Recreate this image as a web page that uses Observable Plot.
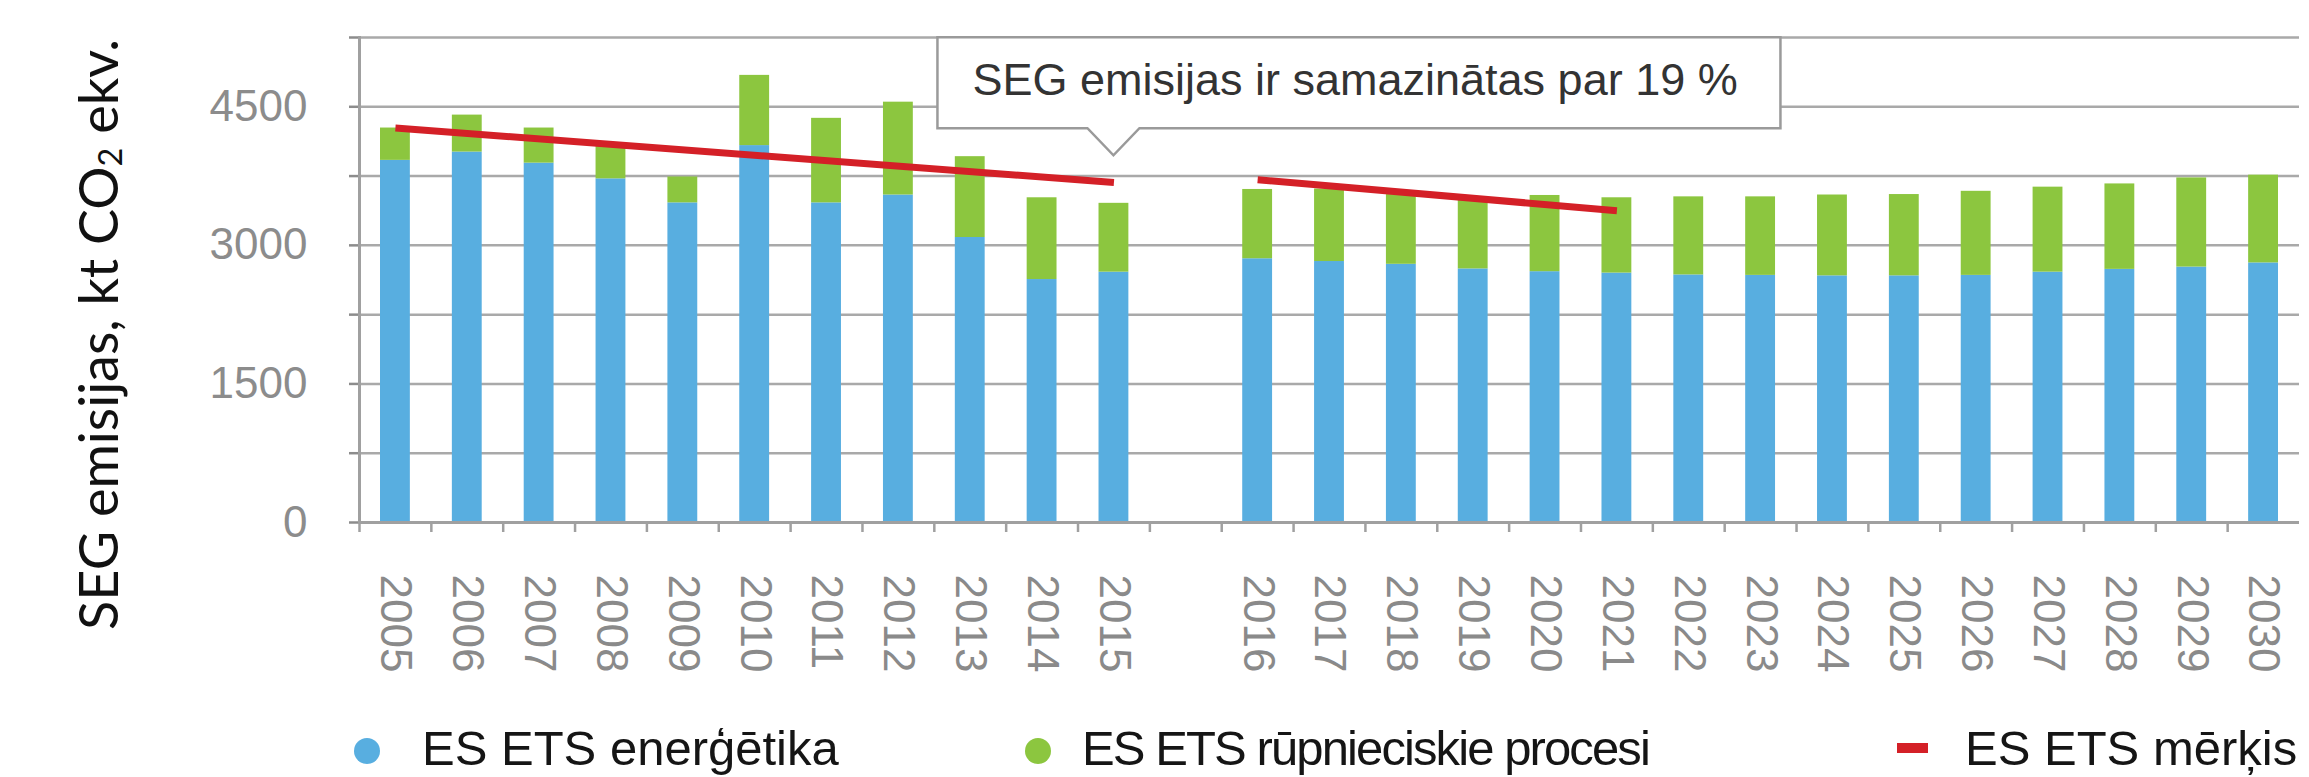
<!DOCTYPE html>
<html><head><meta charset="utf-8">
<script src="https://cdn.jsdelivr.net/npm/d3@7"></script>
<script src="https://cdn.jsdelivr.net/npm/@observablehq/plot@0.6"></script>
<style>
body{margin:0;background:#fff;}
#wrap{position:relative;width:2309px;height:777px;overflow:hidden;font-family:"Liberation Sans",Arial,sans-serif;background:#fff;}
#chart{position:absolute;left:0;top:0;}
#ytitle{position:absolute;left:68px;top:35px;height:600px;width:60px;writing-mode:vertical-rl;transform:rotate(180deg);text-align:center;font-family:Lato,"Open Sans",sans-serif;font-size:54px;line-height:60px;color:#111;white-space:nowrap;}
#ytitle sub{font-size:60%;}
.lg{position:absolute;top:724px;font-size:49px;line-height:49px;color:#151515;white-space:nowrap;}
.mk{position:absolute;}
</style></head><body>
<div id="wrap"><div id="chart"></div><div id="ytitle">SEG emisijas, kt CO<sub>2</sub> ekv.</div><div id="legend"></div></div>
<script>
// ---- data ----
const categories = ["2005","2006","2007","2008","2009","2010","2011","2012","2013","2014","2015","",
  "2016","2017","2018","2019","2020","2021","2022","2023","2024","2025","2026","2027","2028","2029","2030"];
const energy   = [3920,4010,3890,3720,3460,4080,3460,3545,3085,2630,2710,null,
  2855,2825,2795,2745,2715,2700,2680,2675,2670,2670,2675,2710,2740,2765,2810];
const industry = [350,400,380,360,280,760,915,1005,875,885,745,null,
  750,785,755,755,825,815,845,850,875,880,910,920,925,965,950];
const targetYears   = ["2005","2015","2016","2021"];
const targetValues  = [4270,3680,3710,3375];
const targetSegment = ["a","a","b","b"];
const seriesNames  = ["ES ETS enerģētika","ES ETS rūpnieciskie procesi","ES ETS mērķis"];
const seriesColors = ["#58aee0","#8cc63f","#d42027"];
const gridTicks  = [0,750,1500,2250,3000,3750,4500,5250];
const annotationText  = "SEG emisijas ir samazinātas par 19 %";
const annotationYear  = "2015";
const annotationValue = 3970;

// ---- layout ----
const W = 2309, H = 700, mL = 359, mR = 10, mT = 37, mB = 178;
const step = (W - mL - mR) / categories.length;

const bars = [];
categories.forEach((c, i) => {
  if (energy[i] == null) return;
  bars.push({year: c, series: seriesNames[0], value: energy[i]});
  bars.push({year: c, series: seriesNames[1], value: industry[i]});
});
const targets = targetYears.map((y, i) => ({year: y, value: targetValues[i], seg: targetSegment[i]}));

function callout(index, scales, values, dims) {
  let bw = 0;
  const sx = scales.x;
  if (typeof sx.bandwidth === "function") bw = sx.bandwidth();
  else if (typeof sx.bandwidth === "number") bw = sx.bandwidth;
  else bw = step;
  const tx = sx(annotationYear) + bw / 2;
  const ty = scales.y(annotationValue);
  const left = tx - 176, right = tx + 667, top = ty - 118, bottom = ty - 27;
  const g = d3.create("svg:g");
  g.append("path")
    .attr("d", `M${left},${top}H${right}V${bottom}H${tx + 26}L${tx},${ty}L${tx - 26},${bottom}H${left}Z`)
    .attr("fill", "#fff").attr("stroke", "#9a9a9a").attr("stroke-width", 2.5);
  g.append("text").attr("x", left + 35).attr("y", ty - 60)
    .attr("text-anchor", "start")
    .attr("fill", "#333").attr("font-size", 45).text(annotationText);
  return g.node();
}

const chart = Plot.plot({
  width: W, height: H, marginTop: mT, marginBottom: mB, marginLeft: mL, marginRight: mR,
  style: {fontFamily: '"Liberation Sans", Arial, sans-serif', fontSize: "44px", background: "#fff", overflow: "visible"},
  x: {type: "band", domain: categories, padding: 0, round: false, label: null},
  y: {domain: [0, 5250], label: null},
  color: {domain: seriesNames.slice(0, 2), range: seriesColors.slice(0, 2)},
  marks: [
    Plot.gridY(gridTicks, {stroke: "#a9a9a9", strokeOpacity: 1, strokeWidth: 2.5}),
    Plot.axisY(gridTicks, {tickSize: 10, tickPadding: 42, tickFormat: d => d % 1500 === 0 ? String(d) : "", color: "#8c8c8c", strokeWidth: 2.5, label: null}),
    Plot.barY(bars, {x: "year", y: "value", fill: "series", insetLeft: 21, insetRight: 21}),
    Plot.ruleY([0], {stroke: "#a0a0a0", strokeWidth: 3}),
    Plot.frame({anchor: "left", stroke: "#a0a0a0", strokeWidth: 3}),
    Plot.axisX({tickSize: 10, tickFormat: () => "", dx: -step / 2, color: "#a0a0a0", strokeWidth: 2.5, label: null}),
    Plot.axisX({tickSize: 0, tickRotate: 90, tickPadding: 52, color: "#8a8a8a", label: null}),
    Plot.line(targets, {x: "year", y: "value", z: "seg", stroke: seriesColors[2], strokeWidth: 7, strokeLinecap: "butt"}),
    callout
  ]
});
document.getElementById("chart").appendChild(chart);

// ---- legend ----
const lg = document.getElementById("legend");
const legendPos = [
  {mx: 354, tx: 422, kind: "dot", ls: "0px"},
  {mx: 1025, tx: 1082, kind: "dot", ls: "-1.9px"},
  {mx: 1897, tx: 1965, kind: "dash", ls: "0px"}
];
seriesNames.forEach((name, i) => {
  const p = legendPos[i];
  const m = document.createElement("div");
  m.className = "mk";
  if (p.kind === "dot") {
    Object.assign(m.style, {left: p.mx + "px", top: "738px", width: "26px", height: "26px", borderRadius: "50%", background: seriesColors[i]});
  } else {
    Object.assign(m.style, {left: p.mx + "px", top: "743px", width: "31px", height: "10px", background: seriesColors[i]});
  }
  lg.appendChild(m);
  const t = document.createElement("div");
  t.className = "lg";
  t.style.left = p.tx + "px";
  t.style.letterSpacing = p.ls;
  t.textContent = name;
  lg.appendChild(t);
});
</script>
</body></html>
